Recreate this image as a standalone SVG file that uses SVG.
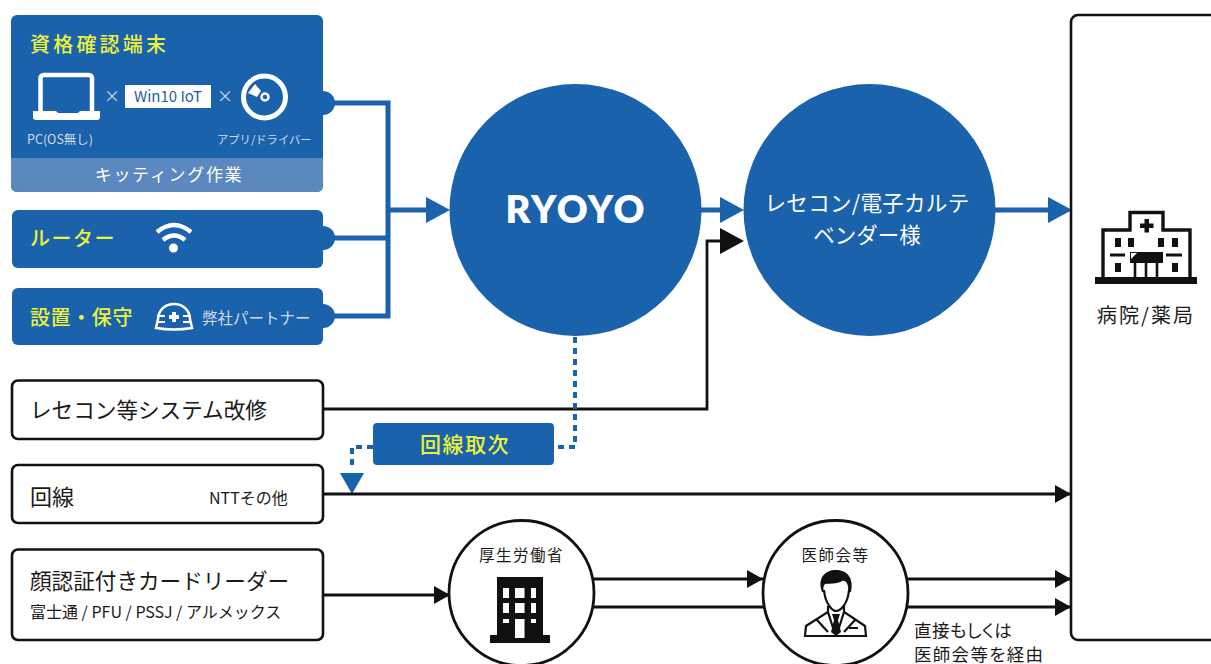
<svg xmlns="http://www.w3.org/2000/svg" width="1211" height="664" viewBox="0 0 1211 664">
<style>
text{font-family:"Noto Sans CJK JP","Noto Sans",sans-serif}
.b{fill:#1a62ac}
.k{fill:#fff;stroke:#111;stroke-width:2.6}
.y{fill:#eef23a;font-weight:500}
.w{fill:#fff}
.l{fill:#cfdcec}
.t{fill:#1a1a1a}
.m{text-anchor:middle}
.bl{fill:none;stroke:#1a62ac;stroke-width:5}
.kl{fill:none;stroke:#111;stroke-width:2.8}
.d{fill:none;stroke:#1a62ac;stroke-width:4;stroke-dasharray:6 5}
.ic{fill:none;stroke:#fff}
.p{font-feature-settings:"palt"}
</style>
<defs>
<marker id="ka" markerUnits="userSpaceOnUse" markerWidth="16" markerHeight="18" refX="16" refY="9" orient="auto"><path d="M0 0L16 9L0 18Z" fill="#111"/></marker>
</defs>
<rect width="1211" height="664" fill="#fff"/>

<g id="connectors">
<path class="bl" d="M330 103H388V316H330M330 238H388M388 210H428"/>
<path class="b" d="M426 197L450 210L426 223Z"/>
<path class="bl" d="M700 210H722"/>
<path class="b" d="M720 197L744 210L720 223Z"/>
<path class="kl" d="M323 409H707V241H722"/>
<path d="M720 228L744 241L720 254Z" fill="#111"/>
<path class="bl" d="M994 210H1050"/>
<path class="b" d="M1048 197L1072 210L1048 223Z"/>
<path class="d" d="M575 337V447H556"/>
<path class="d" d="M373 447H352V467"/>
<path class="b" d="M340 473H364L352 494Z"/>
<path class="kl" d="M323 494H1071" marker-end="url(#ka)"/>
<path class="kl" d="M323 595H450" marker-end="url(#ka)"/>
<path class="kl" d="M590 579H763" marker-end="url(#ka)"/>
<path class="kl" d="M590 607H765"/>
<path class="kl" d="M906 579H1071" marker-end="url(#ka)"/>
<path class="kl" d="M906 607H1071" marker-end="url(#ka)"/>
</g>

<g id="node-terminal">
<rect class="b" x="11" y="15" width="312" height="177" rx="6"/>
<path d="M11 158H323V186a6 6 0 0 1-6 6H17a6 6 0 0 1-6-6Z" fill="#5b88bf"/>
<path class="b" d="M323 91a12 12 0 0 1 0 24Z"/>
<text class="y" x="30" y="52" font-size="20" letter-spacing="3.200">資格確認端末</text>
<g id="icon-laptop">
<path class="ic" stroke-width="4.500" d="M40.500 111V78a3 3 0 0 1 3-3H89a3 3 0 0 1 3 3V111"/>
<path class="w" d="M33 111H56l2 2H78l2-2H100V117a3 3 0 0 1-3 3H36a3 3 0 0 1-3-3Z"/>
</g>
<text class="l m" x="112" y="102" font-size="16">×</text>
<rect class="w" x="125" y="85" width="86" height="23"/>
<text class="m" x="168" y="102" font-size="15" fill="#1f5f9f">Win10 IoT</text>
<text class="l m" x="225" y="102" font-size="16">×</text>
<g id="icon-disc">
<circle class="ic" cx="264.500" cy="97" r="21" stroke-width="5"/>
<path class="w" d="M248 93L255 84L261 91L257 97Z"/>
<circle class="ic" cx="265" cy="97" r="3.500" stroke-width="2.500"/>
</g>
<text class="l" x="27" y="144" font-size="12.500">PC(OS無し)</text>
<text class="l" x="217" y="144" font-size="11.300">アプリ/ドライバー</text>
<text class="w m" x="169" y="181" font-size="17" letter-spacing="1.700">キッティング作業</text>
</g>

<g id="node-router">
<rect class="b" x="12" y="210" width="311" height="58" rx="6"/>
<path class="b" d="M323 226a12 12 0 0 1 0 24Z"/>
<text class="y" x="30" y="246" font-size="20" letter-spacing="1.500">ルーター</text>
<g id="icon-wifi" fill="none" stroke="#fff" stroke-width="4.500">
<path d="M157 232Q174 218 191 232"/>
<path d="M163 240Q174 231 185 240"/>
<circle cx="173.500" cy="248" r="4.500" fill="#fff" stroke="none"/>
</g>
</g>

<g id="node-install">
<rect class="b" x="12" y="288" width="311" height="57" rx="6"/>
<path class="b" d="M323 304a12 12 0 0 1 0 24Z"/>
<text class="y" x="30" y="325" font-size="20" letter-spacing=".6">設置・保守</text>
<g id="icon-helmet">
<path class="ic" stroke-width="2.500" d="M158 319C159 299 189 299 190 319L192 328Q174 331 156 328Z"/>
<path class="ic" stroke-width="2" d="M157 316H165M157 322H165M183 316H191M183 322H191"/>
<path class="w" d="M172 312h4v3h3v4h-3v3h-4v-3h-3v-4h3Z"/>
</g>
<text class="l" x="202" y="324" font-size="15.500">弊社パートナー</text>
</g>

<g id="node-ryoyo">
<circle class="b" cx="575.500" cy="210" r="126"/>
<text class="w m" x="576" y="223" font-size="38" font-weight="800" letter-spacing="2" style="font-family:Lato,'Noto Sans',sans-serif">RYOYO</text>
</g>

<g id="node-vendor">
<circle class="b" cx="869.500" cy="210" r="126"/>
<text class="w m" x="867" y="211" font-size="21.500" letter-spacing=".3">レセコン/電子カルテ</text>
<text class="w m" x="867" y="243" font-size="21.500">ベンダー様</text>
</g>

<g id="node-hospital">
<rect x="1071" y="15" width="160" height="625" rx="7" fill="none" stroke="#111" stroke-width="2.600"/>
<g id="icon-hospital">
<path fill="none" stroke="#111" stroke-width="3.400" d="M1103 278V230H1130V212.500H1163V230H1190V278"/>
<rect x="1095" y="277" width="102" height="7" fill="#111"/>
<path fill="#111" d="M1144.500 219h4.500v4.500h4.500v4.500h-4.500v4.500h-4.500v-4.500h-4.500v-4.500h4.500Z"/>
<path fill="#111" d="M1115 238h6v9h-6ZM1128 238h6v9h-6ZM1158 238h6v9h-6ZM1172 238h6v9h-6ZM1115 263h6v9h-6ZM1172 263h6v9h-6ZM1110 253.500h15v3h-15ZM1166 253.500h16v3h-16ZM1130 252h33v11h-33Z"/>
<path fill="none" stroke="#111" stroke-width="2.600" d="M1135 263V278M1146 263V278M1157 263V278"/>
<path fill="#fff" d="M1131 253h6l-6 6Z"/>
</g>
<text class="t m" x="1146" y="323" font-size="20" letter-spacing="2">病院/薬局</text>
</g>

<g id="node-resecon">
<rect class="k" x="12" y="380.500" width="311" height="58.500" rx="6"/>
<text class="t" x="30" y="418" font-size="21.600">レセコン等システム改修</text>
</g>

<g id="node-line">
<rect class="k" x="12" y="465" width="311" height="58" rx="6"/>
<text class="t" x="30" y="505" font-size="22">回線</text>
<text class="t" x="209" y="504" font-size="16">NTTその他</text>
</g>

<g id="node-reader">
<rect class="k" x="12" y="549.500" width="311" height="90.500" rx="6"/>
<text class="t" x="30" y="589" font-size="21.600">顔認証付きカードリーダー</text>
<text class="t" x="30" y="618" font-size="16">富士通 / PFU / PSSJ / アルメックス</text>
</g>

<g id="node-agency">
<rect class="b" x="373" y="423" width="181" height="42" rx="4"/>
<text class="y m" x="465" y="452" font-size="21" letter-spacing="1.500">回線取次</text>
</g>

<g id="node-mhlw">
<circle cx="521.500" cy="593" r="72.500" fill="#fff" stroke="#111" stroke-width="2.800"/>
<text class="t m" x="521.500" y="561" font-size="15.500" letter-spacing="1.500">厚生労働省</text>
<g id="icon-building">
<path fill="#111" d="M497 577H543V635H550V643H490V635H497Z"/>
<path fill="#fff" d="M503 588h6v10h-6ZM515 588h9.500v10H515ZM531 588h5v10h-5ZM503 603h6v10h-6ZM515 603h9.500v10H515ZM531 603h5v10h-5ZM503 619h6v4h-6ZM531 619h5v4h-5ZM515 619h9.500v19H515Z"/>
</g>
</g>

<g id="node-doctor">
<circle cx="835.500" cy="593" r="72.500" fill="#fff" stroke="#111" stroke-width="2.800"/>
<text class="t m" x="835.500" y="561" font-size="15.500" letter-spacing="1.500">医師会等</text>
<g id="icon-doctor">
<path fill="#111" d="M822 592C817 578 825 570 836 570C848 570 854 579 851 592L848 592C849 584 846 580 842 581C835 585 828 583 825 584C823 586 823 590 824 592Z"/>
<path fill="none" stroke="#111" stroke-width="2.200" d="M824 590C825 603 832 611 836 611C841 611 848 603 849 590"/>
<path fill="none" stroke="#111" stroke-width="2.200" d="M828 606V612L806 626L805 636H866L865 626L844 612V606M828 612L834 631L838 631L844 612M817 620L828 632M855 620L844 632"/>
<path fill="#111" d="M832 614H840L838 620L841 632L836 636L831 632L834 620Z"/>
<path fill="#111" d="M849 627H858V629H849Z"/>
</g>
</g>

<g id="note">
<text class="t p" x="914" y="637" font-size="17.500" letter-spacing=".4">直接もしくは</text>
<text class="t p" x="914" y="661" font-size="17.500" letter-spacing="1.300">医師会等を経由</text>
</g>
</svg>
